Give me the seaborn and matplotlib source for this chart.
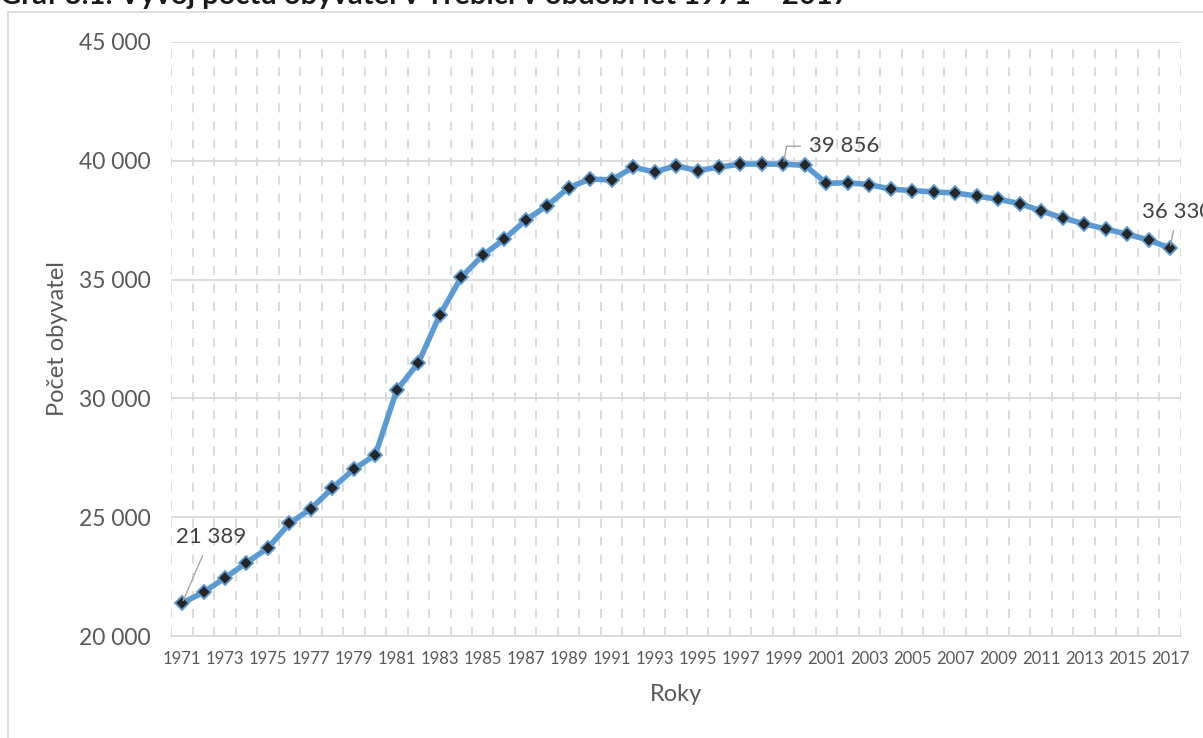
import matplotlib
matplotlib.use("Agg")
import matplotlib.pyplot as plt
import matplotlib.ticker as mticker
import numpy as np
import pandas as pd
import seaborn as sns

years = list(range(1971, 2018))
population = [
    21389, 21840, 22445, 23085, 23705, 24740, 25355, 26230, 27020, 27630,
    30355, 31490, 33510, 35100, 36025, 36700, 37505, 38110, 38870, 39235,
    39190, 39730, 39530, 39790, 39590, 39730, 39862, 39862, 39856, 39810,
    39055, 39075, 39000, 38805, 38745, 38690, 38645, 38520, 38380, 38200,
    37890, 37595, 37350, 37130, 36915, 36665, 36330,
]
tick_years = years[::2]
y_ticks = [20000, 25000, 30000, 35000, 40000, 45000]
labelled_years = [1971, 1999, 2017]

title = "Graf 3.1: Vývoj počtu obyvatel v Třebíči v období let 1971 – 2017"
x_label = "Roky"
y_label = "Počet obyvatel"

LINE_BLUE = "#5B9BD5"
GRID = "#D9D9D9"
TEXT_GREY = "#595959"

sns.set_theme(style="white")
plt.rcParams["font.family"] = ["Lato", "DejaVu Sans"]

df = pd.DataFrame({"rok": years, "obyvatel": population})

fig = plt.figure(figsize=(12.03, 7.38), dpi=100)
ax = fig.add_axes([0.1424, 0.1382, 0.8391, 0.8049])

# outer chart border
fig.patches.append(plt.Rectangle((8 / 1203, -0.01), 1.02, 1 - 12 / 738 + 0.01,
                                 transform=fig.transFigure, fill=False,
                                 edgecolor=GRID, linewidth=1.2))

sns.lineplot(data=df, x="rok", y="obyvatel", ax=ax, color=LINE_BLUE,
             linewidth=4, marker="D", markersize=7.5,
             markerfacecolor="#262626", markeredgecolor=LINE_BLUE,
             markeredgewidth=1.3, zorder=3)

ax.set_xlim(years[0] - 0.5, years[-1] + 0.5)
ax.set_ylim(y_ticks[0], y_ticks[-1])
ax.set_xticks(tick_years)
ax.set_xticks(np.arange(years[0] - 0.5, years[-1] + 1, 1), minor=True)
ax.set_yticks(y_ticks)
ax.yaxis.set_major_formatter(
    mticker.FuncFormatter(lambda v, p: f"{int(v):,}".replace(",", " ")))

ax.grid(axis="y", which="major", color=GRID, linewidth=1.3, linestyle="-")
ax.grid(axis="x", which="minor", color=GRID, linewidth=1.3,
        linestyle=(0, (5, 5)))
ax.grid(axis="x", which="major", visible=False)
ax.set_axisbelow(True)

for side in ["top", "right", "left"]:
    ax.spines[side].set_visible(False)
ax.spines["bottom"].set_color(GRID)
ax.spines["bottom"].set_linewidth(1.3)

ax.tick_params(axis="x", which="major", length=0, labelsize=12,
               labelcolor=TEXT_GREY, pad=11)
ax.tick_params(axis="x", which="minor", length=5, color=GRID, width=1.2,
               direction="out")
ax.tick_params(axis="y", length=0, labelsize=16.5, labelcolor=TEXT_GREY, pad=15)

ax.set_xlabel(x_label, fontsize=17, color=TEXT_GREY, labelpad=12)
ax.set_ylabel(y_label, fontsize=17, color=TEXT_GREY, labelpad=8)

# data labels with leader lines
label_offsets = {1971: (-0.3, 2780), 1999: (1.2, 760), 2017: (-1.3, 1520)}
label_links = {1971: "arc3", 1999: "angle,angleA=180,angleB=80",
               2017: "arc3"}
for yr in labelled_years:
    val = population[years.index(yr)]
    dx, dy = label_offsets[yr]
    txt = f"{val:,}".replace(",", " ")
    ax.annotate(txt, xy=(yr, val), xytext=(yr + dx, val + dy),
                fontsize=16, color="#404040", ha="left", va="center",
                annotation_clip=False,
                arrowprops=dict(arrowstyle="-", color="#A6A6A6", lw=1,
                                shrinkA=4, shrinkB=2,
                                connectionstyle=label_links[yr]))

fig.text(0.0, 1.006, title, fontsize=21, fontweight="bold", color="#1a1a1a",
         ha="left", va="center")

fig.savefig("out.png", dpi=100)
